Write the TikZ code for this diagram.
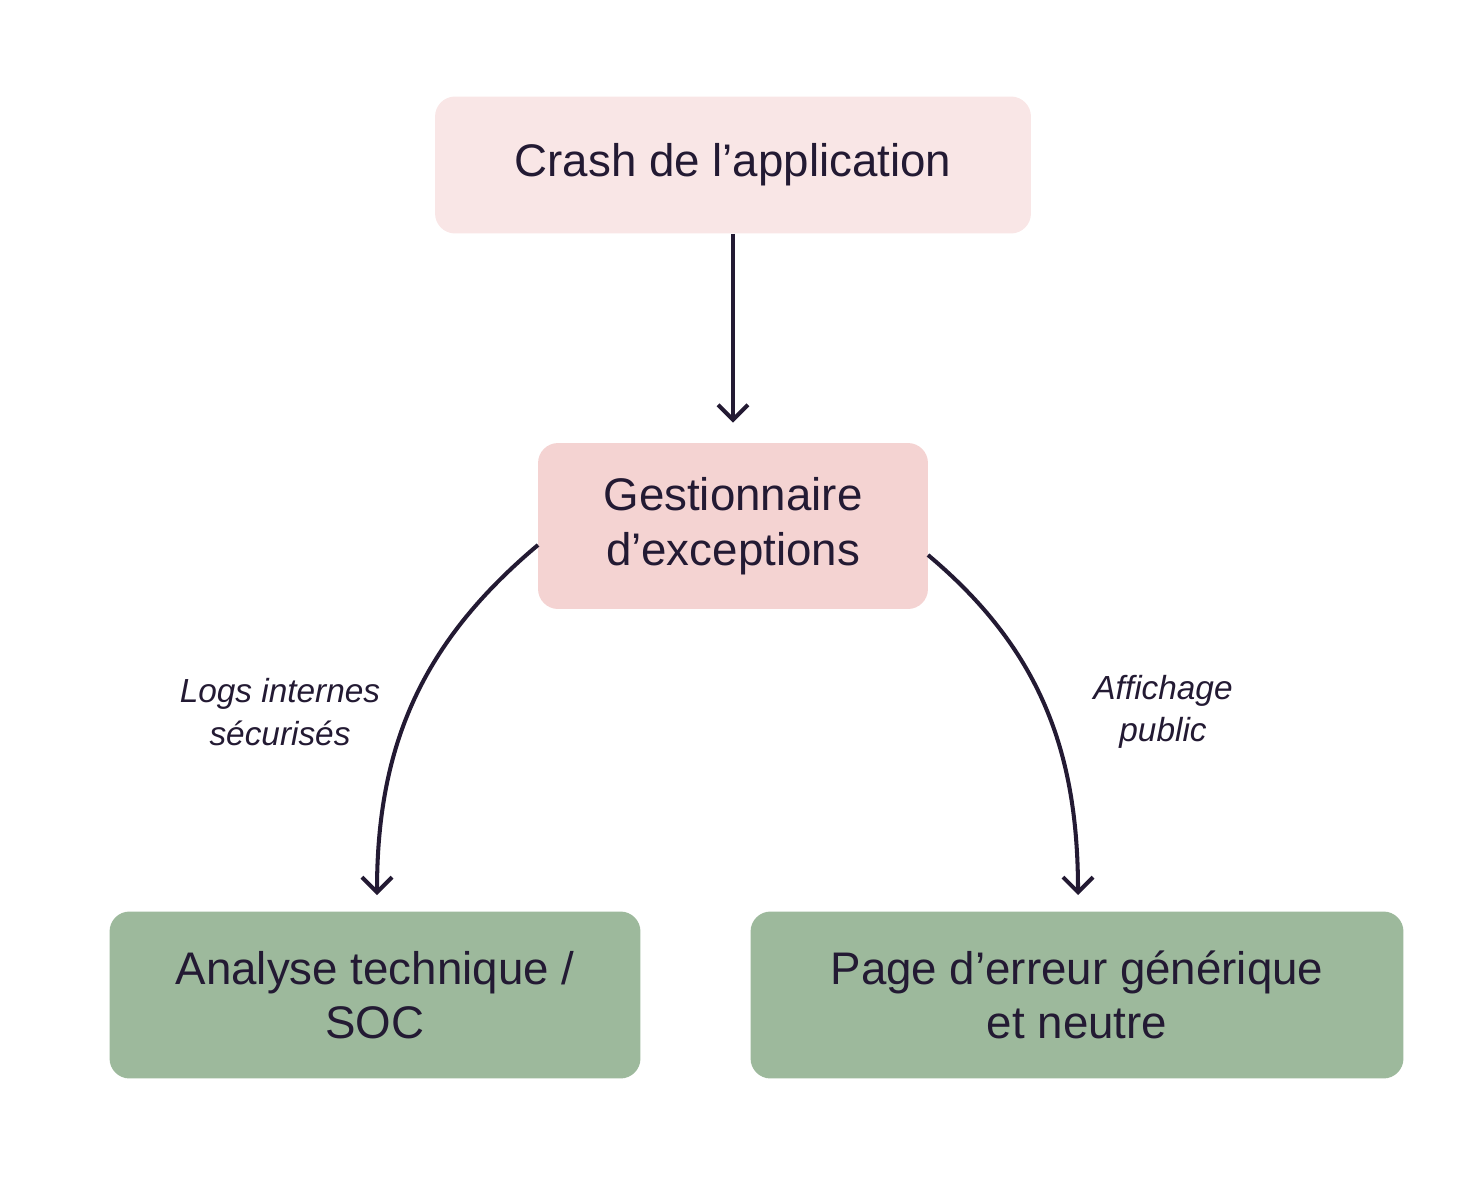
\documentclass[tikz,border=0pt]{standalone}
\usepackage{fontspec}
\setmainfont{Liberation Sans}
\usetikzlibrary{arrows.meta,calc}
\definecolor{myink}{HTML}{231A33}
\definecolor{mypink}{HTML}{F9E6E6}
\definecolor{myrose}{HTML}{F4D3D2}
\definecolor{mygreen}{HTML}{9DB99C}

\begin{document}
\begin{tikzpicture}[x=0.02cm, y=-0.02cm,
    box/.style={rounded corners=0.4cm, text=myink, align=center,
        font=\fontsize{26}{31}\selectfont, inner sep=0pt},
    flow/.style={draw=myink, line width=2.3pt,
        -{Straight Barb[length=0.3cm, width=0.6cm, line width=2.3pt]}},
    lbl/.style={text=myink, align=center, font=\fontsize{19}{24}\selectfont\itshape}]
    \useasboundingbox (0, 0) rectangle (1483, 1186);
    % Boxes
    \node[box, fill=mypink, minimum width=11.92cm, minimum height=2.74cm] (crash) at (733, 165) {Crash de l’application};
    \node[box, fill=myrose, minimum width=7.8cm, minimum height=3.32cm] (gest) at (733, 526) {Gestionnaire\\d’exceptions};
    \node[box, fill=mygreen, minimum width=10.62cm, minimum height=3.34cm] (soc) at (375, 995) {Analyse technique /\\SOC};
    \node[box, fill=mygreen, minimum width=13.06cm, minimum height=3.34cm] (page) at (1077, 995) {Page d’erreur générique\\et neutre};
    % Helper points
    \coordinate (gw) at (538, 545);
    \coordinate (ge) at (928, 555);
    \coordinate (sa) at (377, 895);
    \coordinate (pa) at (1078, 895);
    % Arrows
    \draw[flow] (crash.south) -- ($(gest.north) + (0, -20)$);
    \draw[flow] (gw) to[out=220, in=90] (sa);
    \draw[flow] (ge) to[out=-40, in=90] (pa);
    % Labels
    \node[lbl] (llog) at (280, 712) {Logs internes\\sécurisés};
    \node[lbl] (lpub) at (1163, 712) {Affichage\\public};
\end{tikzpicture}
\end{document}
